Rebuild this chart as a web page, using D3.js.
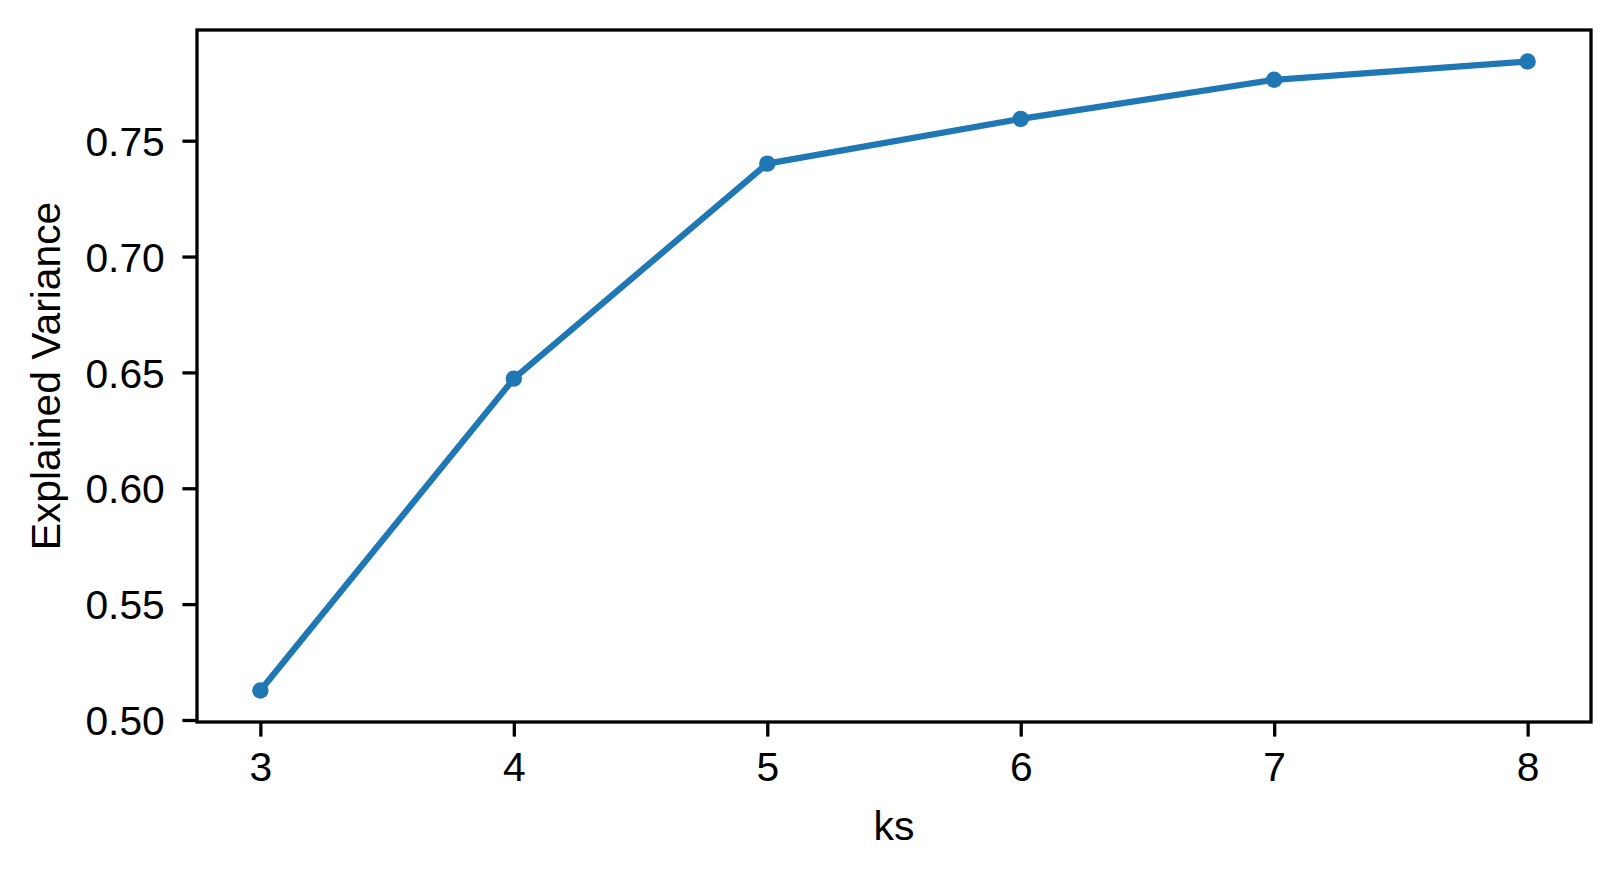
<!DOCTYPE html>
<html>
<head>
<meta charset="utf-8">
<script src="https://cdn.jsdelivr.net/npm/d3@7"></script>
<style>
  body { margin: 0; background: #fff; }
  text { font-family: "Liberation Sans", Arial, sans-serif; fill: #000; }
</style>
</head>
<body>
<div id="chart"></div>
<script>
// datos
var ks = [3, 4, 5, 6, 7, 8];
var explained = [0.5127, 0.6473, 0.7401, 0.7594, 0.7763, 0.7842];
var xTicks = [3, 4, 5, 6, 7, 8];
var yTicks = [0.50, 0.55, 0.60, 0.65, 0.70, 0.75];

var W = 1620, H = 878;
var margin = {top: 30, right: 29, bottom: 156, left: 197};
var width = W - margin.left - margin.right,
    height = H - margin.top - margin.bottom;

var fontPx = 40.8, tickLen = 14.6, pad = 14.6;

var svg = d3.select("#chart").append("svg")
    .attr("width", W)
    .attr("height", H);

var g = svg.append("g")
    .attr("transform", "translate(" + margin.left + "," + margin.top + ")");

// dominio con 5% de margen como matplotlib
var yMin = d3.min(explained), yMax = d3.max(explained), yr = yMax - yMin;
var x = d3.scaleLinear().domain([2.75, 8.25]).range([0, width]);
var y = d3.scaleLinear().domain([yMin - 0.05 * yr, yMax + 0.05 * yr]).range([height, 0]);

// eje x
var xAxis = g.append("g")
    .attr("transform", "translate(0," + height + ")")
    .call(d3.axisBottom(x).tickValues(xTicks).tickSize(tickLen).tickPadding(pad).tickFormat(d3.format("d")));

// eje y
var yAxis = g.append("g")
    .call(d3.axisLeft(y).tickValues(yTicks).tickSize(tickLen).tickPadding(pad).tickFormat(d3.format(".2f")));

[xAxis, yAxis].forEach(function(a) {
  a.select(".domain").remove();
  a.selectAll(".tick line").attr("stroke", "#000").attr("stroke-width", 3.3);
  a.selectAll(".tick text")
    .style("font-family", "Liberation Sans, Arial, sans-serif")
    .style("font-size", fontPx + "px")
    .attr("fill", "#000");
});
xAxis.selectAll(".tick text").attr("dy", "0.74em");
yAxis.selectAll(".tick text").attr("dy", "0.36em").attr("x", -tickLen - pad - 3);

// linea
var line = d3.line()
    .x(function(d, i) { return x(ks[i]); })
    .y(function(d) { return y(d); });

g.append("path")
    .datum(explained)
    .attr("fill", "none")
    .attr("stroke", "#1f77b4")
    .attr("stroke-width", 6.25)
    .attr("stroke-linejoin", "round")
    .attr("stroke-linecap", "square")
    .attr("d", line);

g.selectAll(".pt")
    .data(explained)
  .enter().append("circle")
    .attr("class", "pt")
    .attr("cx", function(d, i) { return x(ks[i]); })
    .attr("cy", function(d) { return y(d); })
    .attr("r", 8.2)
    .attr("fill", "#1f77b4");

// marco
g.append("rect")
    .attr("width", width)
    .attr("height", height)
    .attr("fill", "none")
    .attr("stroke", "#000")
    .attr("stroke-width", 3.3)
    .attr("stroke-linejoin", "miter");

// titulos de ejes
svg.append("text")
    .attr("x", margin.left + width / 2)
    .attr("y", 840)
    .attr("text-anchor", "middle")
    .style("font-size", fontPx + "px")
    .text("ks");

svg.append("text")
    .attr("transform", "translate(60," + (margin.top + height / 2) + ") rotate(-90)")
    .attr("text-anchor", "middle")
    .style("font-size", fontPx + "px")
    .text("Explained Variance");
</script>
</body>
</html>
